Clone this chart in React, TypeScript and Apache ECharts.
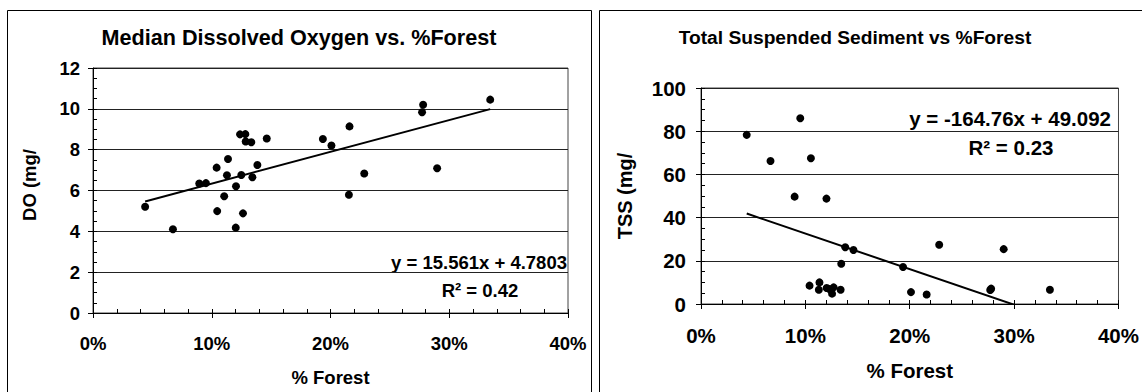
import React, { useEffect, useRef } from "react";
import * as echarts from "echarts";

// Median dissolved oxygen (mg/L) against forest cover (fraction of catchment)
const doForest = [
  0.0439, 0.0673, 0.0895, 0.0951, 0.1041, 0.1046, 0.1105, 0.1128, 0.1137, 0.1204,
  0.1202, 0.1238, 0.1249, 0.1263, 0.1283, 0.1286, 0.1333, 0.1342, 0.1384, 0.1463,
  0.1936, 0.2008, 0.216, 0.2155, 0.2284, 0.2771, 0.278, 0.2898, 0.3345,
];
const doValues = [
  5.2, 4.1, 6.34, 6.36, 7.12, 4.99, 5.72, 6.75, 7.54, 6.21,
  4.18, 8.75, 6.76, 4.88, 8.76, 8.4, 8.36, 6.65, 7.25, 8.55,
  8.52, 8.2, 9.14, 5.79, 6.83, 9.83, 10.2, 7.09, 10.45,
];
const doSlope = 15.561;
const doIntercept = 4.7803;
const doR2 = "0.42";

// Total suspended sediment (mg/L) against forest cover
const tssForest = [
  0.0438, 0.0666, 0.0951, 0.0897, 0.1053, 0.1202, 0.1382, 0.1461, 0.1344, 0.1936,
  0.104, 0.1135, 0.1129, 0.1204, 0.123, 0.1256, 0.1271, 0.1338, 0.2012, 0.2162,
  0.2282, 0.29, 0.2771, 0.278, 0.3343,
];
const tssValues = [
  78.3, 66.2, 86.0, 49.7, 67.5, 48.8, 26.3, 25.0, 18.6, 17.1,
  8.5, 10.0, 6.6, 7.4, 6.9, 4.8, 7.7, 6.6, 5.5, 4.4,
  27.4, 25.4, 6.5, 7.1, 6.6,
];
const tssSlope = -164.76;
const tssIntercept = 49.092;
const tssR2 = "0.23";

const forestTicks = { min: 0, max: 0.4, interval: 0.1 };
const doTicks = { min: 0, max: 12, interval: 2 };
const tssTicks = { min: 0, max: 100, interval: 20 };

const FONT = "Liberation Sans, Arial, Helvetica, sans-serif";

const zip = (xs: number[], ys: number[]) => xs.map((x, i) => [x, ys[i]]);

// Least-squares line drawn across the observed range of forest cover
const trend = (xs: number[], slope: number, intercept: number) => {
  const lo = Math.min(...xs);
  const hi = Math.max(...xs);
  return [
    [lo, slope * lo + intercept],
    [hi, slope * hi + intercept],
  ];
};

const fmtSigned = (v: number) => (v < 0 ? "-" + Math.abs(v) : String(v));
const equation = (slope: number, intercept: number) =>
  `y = ${fmtSigned(slope)}x ${intercept < 0 ? "-" : "+"} ${Math.abs(intercept)}`;

const pct = (v: number) => Math.round(v * 100) + "%";

function xAxes(gridIndex: number, fontSize: number, nameGap: number) {
  const base = {
    type: "value" as const,
    gridIndex,
    position: "bottom" as const,
    ...forestTicks,
    splitLine: { show: false },
  };
  return [
    {
      ...base,
      name: "% Forest",
      nameLocation: "middle" as const,
      nameGap,
      nameTextStyle: {
        fontFamily: FONT,
        fontWeight: "bold",
        fontSize,
        color: "#000",
        verticalAlign: "middle",
      },
      axisLine: { show: true, onZero: false, lineStyle: { color: "#000", width: 1 } },
      axisTick: { show: true, inside: true, length: 4, lineStyle: { color: "#000" } },
      minorTick: { show: true, splitNumber: 5, length: 4, lineStyle: { color: "#000" } },
      axisLabel: {
        formatter: pct,
        margin: 21,
        fontFamily: FONT,
        fontWeight: "bold",
        fontSize,
        color: "#000",
      },
    },
    {
      ...base,
      axisLine: { show: false },
      axisTick: { show: true, inside: false, length: 5, lineStyle: { color: "#000" } },
      axisLabel: { show: false },
    },
  ];
}

function yAxes(gridIndex: number, ticks: typeof doTicks, fontSize: number, margin: number) {
  const base = {
    type: "value" as const,
    gridIndex,
    position: "left" as const,
    ...ticks,
  };
  return [
    {
      ...base,
      axisLine: { show: true, onZero: false, lineStyle: { color: "#000", width: 1 } },
      axisTick: { show: true, inside: true, length: 4, lineStyle: { color: "#000" } },
      minorTick: { show: true, splitNumber: 4, length: 4, lineStyle: { color: "#000" } },
      splitLine: { show: true, lineStyle: { color: "#222", width: 1 } },
      axisLabel: {
        margin,
        fontFamily: FONT,
        fontWeight: "bold",
        fontSize,
        color: "#000",
      },
    },
    {
      ...base,
      axisLine: { show: false },
      axisTick: { show: true, inside: false, length: 5, lineStyle: { color: "#000" } },
      axisLabel: { show: false },
      splitLine: { show: false },
    },
  ];
}

function label(
  text: string,
  x: number,
  y: number,
  fontSize: number,
  align: "left" | "center" | "right" = "center",
  rotation = 0
) {
  return {
    type: "text",
    x,
    y,
    rotation,
    style: {
      text,
      fontFamily: FONT,
      fontWeight: "bold",
      fontSize,
      fill: "#000",
      align,
      verticalAlign: "middle",
    },
  };
}

export default function App() {
  const ref = useRef<HTMLDivElement>(null);

  useEffect(() => {
    if (!ref.current) return;
    const chart = echarts.init(ref.current, undefined, { renderer: "svg" });

    const [lx, lxTicks] = xAxes(0, 18.5, 64);
    const [rx, rxTicks] = xAxes(1, 20.5, 66);
    const [ly, lyTicks] = yAxes(0, doTicks, 18.5, 13);
    const [ry, ryTicks] = yAxes(1, tssTicks, 20.5, 15);

    const dot = {
      type: "scatter" as const,
      symbol: "circle",
      symbolSize: 8,
      itemStyle: { color: "#000", opacity: 1 },
      z: 3,
    };
    const fit = {
      type: "line" as const,
      symbol: "none",
      clip: true,
      lineStyle: { color: "#000", width: 2 },
      z: 2,
    };

    chart.setOption({
      animation: false,
      backgroundColor: "#fff",
      grid: [
        { left: 93, top: 68, width: 475, height: 245, show: true, borderColor: "#444", borderWidth: 1 },
        { left: 701, top: 88, width: 420, height: 216, show: true, borderColor: "#444", borderWidth: 1 },
      ],
      xAxis: [lx, rx, lxTicks, rxTicks],
      yAxis: [ly, ry, lyTicks, ryTicks],
      graphic: [
        {
          type: "rect",
          shape: { x: 7.5, y: 10.5, width: 584, height: 420 },
          style: { fill: "none", stroke: "#000", lineWidth: 1 },
          silent: true,
        },
        {
          type: "rect",
          shape: { x: 599.5, y: 10.5, width: 600, height: 420 },
          style: { fill: "none", stroke: "#000", lineWidth: 1 },
          silent: true,
        },
        label("Median Dissolved Oxygen vs. %Forest", 299, 37, 21.6),
        label("Total Suspended Sediment vs %Forest", 855, 37.5, 19.2),
        label("DO (mg/", 29, 185, 18.5, "center", Math.PI / 2),
        label("TSS (mg/", 625, 196, 20, "center", Math.PI / 2),
        label(equation(doSlope, doIntercept), 567, 262, 18.5, "right"),
        label(`R² = ${doR2}`, 480, 290, 18.5, "center"),
        label(equation(tssSlope, tssIntercept), 1111, 118, 20.5, "right"),
        label(`R² = ${tssR2}`, 1011, 147, 20.5, "center"),
      ],
      series: [
        { ...dot, xAxisIndex: 0, yAxisIndex: 0, data: zip(doForest, doValues) },
        { ...fit, xAxisIndex: 0, yAxisIndex: 0, data: trend(doForest, doSlope, doIntercept) },
        { ...dot, xAxisIndex: 1, yAxisIndex: 1, data: zip(tssForest, tssValues) },
        { ...fit, xAxisIndex: 1, yAxisIndex: 1, data: trend(tssForest, tssSlope, tssIntercept) },
      ],
    });

    return () => chart.dispose();
  }, []);

  return (
    <div
      ref={ref}
      style={{ position: "absolute", left: 0, top: 0, width: 1142, height: 392 }}
    />
  );
}
